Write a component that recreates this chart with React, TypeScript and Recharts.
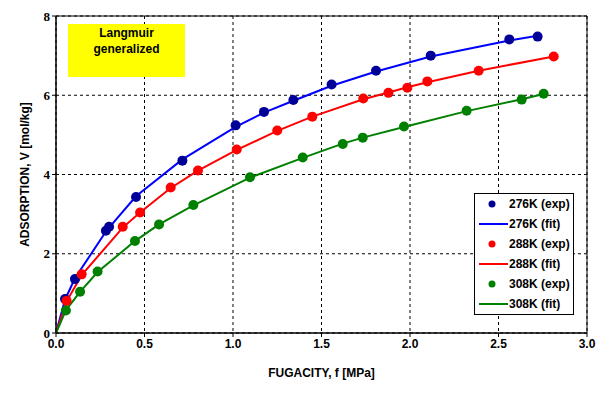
import {
  ComposedChart, Line, Scatter, XAxis, YAxis, CartesianGrid,
  ReferenceArea, Legend,
} from 'recharts'

// experimental points (fugacity MPa, adsorption mol/kg)
const exp276 = [
  { x: 0.051, y: 0.86 }, { x: 0.107, y: 1.36 }, { x: 0.282, y: 2.58 }, { x: 0.300, y: 2.68 },
  { x: 0.452, y: 3.43 }, { x: 0.714, y: 4.35 }, { x: 1.015, y: 5.24 }, { x: 1.175, y: 5.58 },
  { x: 1.341, y: 5.88 }, { x: 1.557, y: 6.27 }, { x: 1.808, y: 6.62 }, { x: 2.117, y: 7.00 },
  { x: 2.561, y: 7.41 }, { x: 2.721, y: 7.48 },
]
const exp288 = [
  { x: 0.060, y: 0.81 }, { x: 0.145, y: 1.48 }, { x: 0.377, y: 2.68 }, { x: 0.475, y: 3.04 },
  { x: 0.648, y: 3.67 }, { x: 0.802, y: 4.10 }, { x: 1.021, y: 4.63 }, { x: 1.250, y: 5.11 },
  { x: 1.448, y: 5.46 }, { x: 1.736, y: 5.92 }, { x: 1.878, y: 6.06 }, { x: 1.985, y: 6.19 },
  { x: 2.098, y: 6.35 }, { x: 2.388, y: 6.62 }, { x: 2.812, y: 6.98 },
]
const exp308 = [
  { x: 0.056, y: 0.57 }, { x: 0.136, y: 1.04 }, { x: 0.235, y: 1.55 }, { x: 0.446, y: 2.32 },
  { x: 0.582, y: 2.74 }, { x: 0.776, y: 3.23 }, { x: 1.096, y: 3.93 }, { x: 1.394, y: 4.43 },
  { x: 1.620, y: 4.77 }, { x: 1.733, y: 4.93 }, { x: 1.966, y: 5.21 }, { x: 2.320, y: 5.61 },
  { x: 2.631, y: 5.89 }, { x: 2.755, y: 6.04 },
]

// fitted curves (Langmuir generalized)
const fit276 = [
  { x: 0, y: 0 }, { x: 0.051, y: 0.84 }, { x: 0.107, y: 1.38 }, { x: 0.282, y: 2.56 },
  { x: 0.300, y: 2.66 }, { x: 0.452, y: 3.45 }, { x: 0.714, y: 4.38 }, { x: 1.015, y: 5.20 },
  { x: 1.175, y: 5.56 }, { x: 1.341, y: 5.86 }, { x: 1.557, y: 6.24 }, { x: 1.808, y: 6.60 },
  { x: 2.117, y: 6.98 }, { x: 2.561, y: 7.38 }, { x: 2.721, y: 7.50 },
]
const fit288 = [
  { x: 0, y: 0 }, { x: 0.060, y: 0.80 }, { x: 0.145, y: 1.46 }, { x: 0.377, y: 2.66 },
  { x: 0.475, y: 3.04 }, { x: 0.648, y: 3.66 }, { x: 0.802, y: 4.10 }, { x: 1.021, y: 4.62 },
  { x: 1.250, y: 5.10 }, { x: 1.448, y: 5.46 }, { x: 1.736, y: 5.90 }, { x: 1.878, y: 6.07 },
  { x: 1.985, y: 6.20 }, { x: 2.098, y: 6.33 }, { x: 2.388, y: 6.62 }, { x: 2.812, y: 6.98 },
]
const fit308 = [
  { x: 0, y: 0 }, { x: 0.056, y: 0.58 }, { x: 0.136, y: 1.04 }, { x: 0.235, y: 1.54 },
  { x: 0.446, y: 2.32 }, { x: 0.582, y: 2.74 }, { x: 0.776, y: 3.22 }, { x: 1.096, y: 3.92 },
  { x: 1.394, y: 4.42 }, { x: 1.620, y: 4.78 }, { x: 1.733, y: 4.93 }, { x: 1.966, y: 5.20 },
  { x: 2.320, y: 5.60 }, { x: 2.631, y: 5.90 }, { x: 2.755, y: 6.03 },
]

const xTicks = [0, 0.5, 1.0, 1.5, 2.0, 2.5, 3.0]
const yTicks = [0, 2, 4, 6, 8]

const legendItems = [
  { label: '276K (exp)', color: '#000099', kind: 'dot' },
  { label: '276K (fit)', color: '#0000ff', kind: 'line' },
  { label: '288K (exp)', color: '#ff0000', kind: 'dot' },
  { label: '288K (fit)', color: '#ff0000', kind: 'line' },
  { label: '308K (exp)', color: '#008000', kind: 'dot' },
  { label: '308K (fit)', color: '#008000', kind: 'line' },
]

const sans = '"Liberation Sans", Arial, sans-serif'
const serif = '"Liberation Serif", "Times New Roman", serif'

function LegendBox() {
  return (
    <div style={{
      background: 'white', border: '1px solid #000', width: 98, padding: '0 0 0 0',
      fontFamily: sans, fontWeight: 700, fontSize: 12, color: '#000',
    }}>
      {legendItems.map(it => (
        <div key={it.label} style={{ display: 'flex', alignItems: 'center', height: 20 }}>
          <svg width={34} height={20}>
            {it.kind === 'dot'
              ? <circle cx={17} cy={10} r={3.5} fill={it.color} />
              : <line x1={4} y1={10} x2={33} y2={10} stroke={it.color} strokeWidth={2} />}
          </svg>
          <span>{it.label}</span>
        </div>
      ))}
    </div>
  )
}

function YLabel(props: any) {
  const vb = props.viewBox || {}
  const cx = 25
  const cy = vb.y + vb.height / 2
  return (
    <text x={cx} y={cy} transform={`rotate(-90 ${cx} ${cy})`} textAnchor="middle"
      dominantBaseline="central" fontFamily={sans} fontWeight={700} fontSize={12} fill="#000">
      ADSORPTION, V [mol/kg]
    </text>
  )
}

export default function App() {
  return (
    <div style={{ position: 'absolute', left: 0, top: 0, width: 602, height: 398, background: 'white' }}>
      <ComposedChart width={602} height={398} margin={{ top: 16, right: 15, bottom: 15, left: 0 }}>
        <CartesianGrid stroke="#000" strokeDasharray="3 3" strokeWidth={1} />
        <XAxis
          type="number" dataKey="x" domain={[0, 3]} ticks={xTicks} height={50}
          tickFormatter={(v: number) => v.toFixed(1)}
          tick={{ fontFamily: sans, fontWeight: 700, fontSize: 12, fill: '#000' }}
          tickSize={4} tickLine={{ stroke: '#000' }} axisLine={{ stroke: '#000' }}
          label={{ value: 'FUGACITY, f [MPa]', position: 'insideBottom', offset: 6,
            style: { fontFamily: sans, fontWeight: 700, fontSize: 12, fill: '#000' } }}
        />
        <YAxis
          type="number" dataKey="y" domain={[0, 8]} ticks={yTicks} width={56}
          tick={{ fontFamily: serif, fontWeight: 700, fontSize: 13, fill: '#000' }}
          tickSize={4} tickLine={{ stroke: '#000' }} axisLine={{ stroke: '#000' }}
          label={<YLabel />}
        />
        <ReferenceArea x1={0} x2={3} y1={0} y2={8} fill="none" stroke="#000" strokeWidth={1} />
        <Line data={fit276} dataKey="y" type="linear" stroke="#0000ff" strokeWidth={2} dot={false} isAnimationActive={false} />
        <Line data={fit288} dataKey="y" type="linear" stroke="#ff0000" strokeWidth={2} dot={false} isAnimationActive={false} />
        <Line data={fit308} dataKey="y" type="linear" stroke="#008000" strokeWidth={2} dot={false} isAnimationActive={false} />
        <Scatter data={exp276} dataKey="y" fill="#000099" shape={(p: any) => <circle cx={p.cx} cy={p.cy} r={5} fill="#000099" />} isAnimationActive={false} />
        <Scatter data={exp288} dataKey="y" fill="#ff0000" shape={(p: any) => <circle cx={p.cx} cy={p.cy} r={5} fill="#ff0000" />} isAnimationActive={false} />
        <Scatter data={exp308} dataKey="y" fill="#008000" shape={(p: any) => <circle cx={p.cx} cy={p.cy} r={5} fill="#008000" />} isAnimationActive={false} />
        <Legend layout="vertical" align="center" verticalAlign="middle" content={<LegendBox />}
          wrapperStyle={{ position: 'absolute', left: 474, top: 193, width: 100 }} />
      </ComposedChart>
      <div style={{
        position: 'absolute', left: 68, top: 24, width: 117, height: 53, background: '#ffff00',
        fontFamily: sans, fontWeight: 700, fontSize: 12, lineHeight: '16px', textAlign: 'center',
        paddingTop: 1, boxSizing: 'border-box', color: '#000',
      }}>
        Langmuir<br />generalized
      </div>
    </div>
  )
}
